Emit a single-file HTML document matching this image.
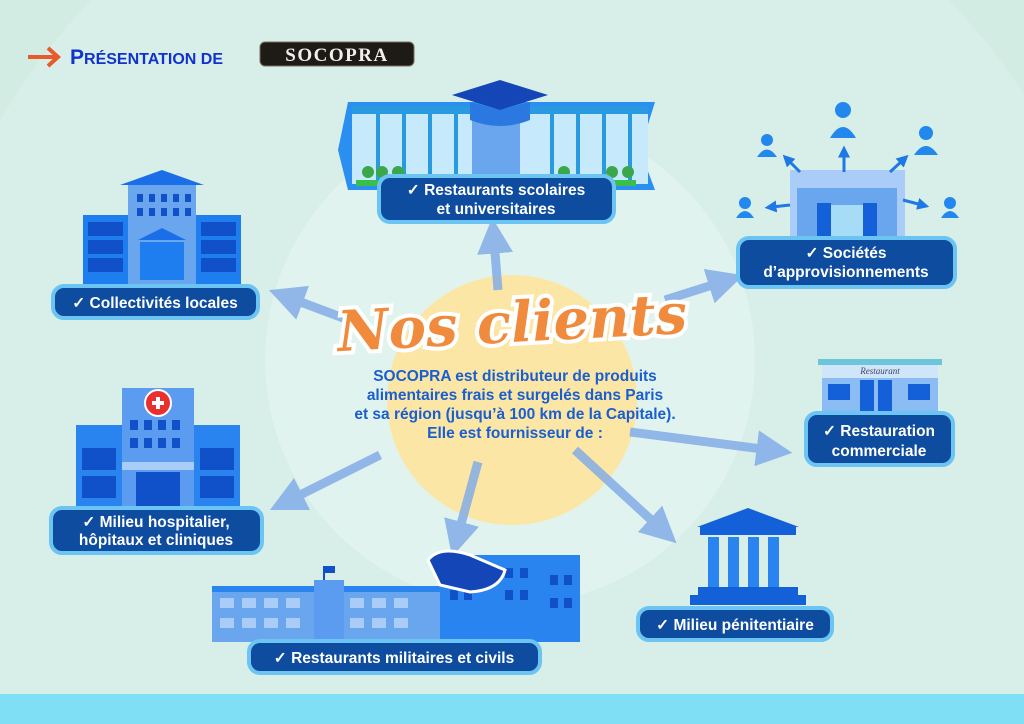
<!DOCTYPE html>
<html><head><meta charset="utf-8"><style>
html,body{margin:0;padding:0;width:1024px;height:724px;overflow:hidden;background:#d2ebe3;position:relative}
svg{display:block;position:absolute;left:0;top:0}
.lb{font-family:"Liberation Sans",sans-serif;font-weight:bold;font-size:15.5px;fill:#fff}
.ct{font-family:"Liberation Sans",sans-serif;font-weight:bold;font-size:15.5px;fill:#1a5fd0}
</style></head><body>
<svg width="1024" height="724" viewBox="0 0 1024 724" xmlns="http://www.w3.org/2000/svg">
<defs>
<marker id="ah" markerWidth="4" markerHeight="4" refX="1.5" refY="2" orient="auto"><path d="M0,0 L4,2 L0,4 Z" fill="#7ea9e8"/></marker>
<marker id="sa" markerWidth="4" markerHeight="4" refX="1.5" refY="2" orient="auto"><path d="M0,0 L4,2 L0,4 Z" fill="#1e78e6"/></marker>
</defs>
<rect width="1024" height="724" fill="#d2ebe3"/>
<circle cx="520" cy="420" r="600" fill="#d8eee8"/>
<circle cx="510" cy="360" r="245" fill="#e1f3ee"/>
<circle cx="512" cy="400" r="125" fill="#fbe6a6"/>
<rect x="0" y="694" width="1024" height="30" fill="#7fe0f5"/>

<!-- header -->
<path d="M28,57 H56" stroke="#e85a2a" stroke-width="4"/>
<path d="M48,48 L58,57 L48,66" stroke="#e85a2a" stroke-width="4" fill="none"/>
<text x="70" y="64" font-family="Liberation Sans,sans-serif" font-weight="bold" fill="#1133cc"><tspan font-size="21">P</tspan><tspan font-size="16">RÉSENTATION DE</tspan></text>
<rect x="260" y="42" width="154" height="24" rx="5" fill="#1e1a16" stroke="#7a6f60"/>
<text x="337" y="61" text-anchor="middle" font-family="Liberation Serif,serif" font-weight="bold" font-size="19" fill="#eee" letter-spacing="1.5">SOCOPRA</text>

<!-- arrows -->
<g stroke="#7ea9e8" stroke-width="9" fill="none" opacity="0.8" marker-end="url(#ah)">
<line x1="362" y1="325" x2="290" y2="298"/>
<line x1="498" y1="290" x2="494" y2="240"/>
<line x1="665" y1="300" x2="722" y2="282"/>
<line x1="630" y1="432" x2="770" y2="450"/>
<line x1="380" y1="455" x2="290" y2="500"/>
<line x1="478" y1="462" x2="458" y2="535"/>
<line x1="575" y1="450" x2="660" y2="528"/>
</g>

<!-- school -->
<path d="M348,102 H655 L640,150 L655,190 H348 L338,150 Z" fill="#2a8ff0"/>
<rect x="352" y="106" width="296" height="78" fill="#c6e9fb"/>
<g fill="#2a9ae0">
<rect x="352" y="106" width="296" height="8"/>
<rect x="376" y="106" width="4" height="78"/><rect x="402" y="106" width="4" height="78"/><rect x="428" y="106" width="4" height="78"/><rect x="454" y="106" width="4" height="78"/><rect x="550" y="106" width="4" height="78"/><rect x="576" y="106" width="4" height="78"/><rect x="602" y="106" width="4" height="78"/><rect x="628" y="106" width="4" height="78"/>
</g>
<rect x="472" y="110" width="48" height="66" fill="#6aa6ee"/>
<path d="M452,95 L500,80 L548,95 L500,110 Z" fill="#1446b8"/>
<path d="M470,102 V120 Q500,132 530,120 V102 L500,110 Z" fill="#2a78e0"/>
<rect x="356" y="180" width="280" height="6" fill="#3ac04a"/>
<g fill="#3aa84a"><circle cx="368" cy="172" r="6"/><circle cx="382" cy="172" r="6"/><circle cx="398" cy="172" r="6"/><circle cx="564" cy="172" r="6"/><circle cx="612" cy="172" r="6"/><circle cx="628" cy="172" r="6"/></g>

<!-- collectivites -->
<path d="M120,185 L162,170 L204,185 Z" fill="#1a6fe8"/>
<rect x="128" y="185" width="68" height="100" fill="#6aa6ee"/>
<rect x="83" y="215" width="45" height="70" fill="#1e7ef0"/>
<rect x="196" y="215" width="45" height="70" fill="#1e7ef0"/>
<g fill="#1050c8"><rect x="88" y="222" width="35" height="14"/><rect x="88" y="240" width="35" height="14"/><rect x="88" y="258" width="35" height="14"/><rect x="201" y="222" width="35" height="14"/><rect x="201" y="240" width="35" height="14"/><rect x="201" y="258" width="35" height="14"/>
<rect x="137" y="194" width="6" height="8"/><rect x="149" y="194" width="6" height="8"/><rect x="161" y="194" width="6" height="8"/><rect x="173" y="194" width="6" height="8"/><rect x="185" y="194" width="6" height="8"/>
<rect x="137" y="208" width="6" height="8"/><rect x="149" y="208" width="6" height="8"/><rect x="161" y="208" width="6" height="8"/><rect x="173" y="208" width="6" height="8"/><rect x="185" y="208" width="6" height="8"/></g>
<path d="M138,240 L162,228 L186,240 Z" fill="#1a6fe8"/>
<rect x="140" y="242" width="44" height="38" fill="#1e7ef0"/>

<!-- societes -->
<rect x="790" y="170" width="115" height="68" fill="#a9cdf8"/>
<rect x="797" y="188" width="100" height="50" fill="#6aa6ee"/>
<rect x="820" y="205" width="55" height="33" fill="#a6dcf6"/>
<rect x="817" y="203" width="14" height="35" fill="#1460d8"/><rect x="863" y="203" width="14" height="35" fill="#1460d8"/>
<g fill="#2288ee"><circle cx="767" cy="140" r="6"/><path d="M757,157 Q767,142 777,157 Z"/><circle cx="843" cy="110" r="8"/><path d="M830,138 Q843,116 856,138 Z"/><circle cx="926" cy="133" r="7"/><path d="M914,155 Q926,137 938,155 Z"/><circle cx="745" cy="203" r="6"/><path d="M736,218 Q745,204 754,218 Z"/><circle cx="950" cy="203" r="6"/><path d="M941,218 Q950,204 959,218 Z"/></g>
<g stroke="#1e78e6" stroke-width="3" marker-end="url(#sa)"><line x1="800" y1="172" x2="788" y2="160"/><line x1="844" y1="172" x2="844" y2="153"/><line x1="890" y1="172" x2="903" y2="160"/><line x1="790" y1="205" x2="772" y2="207"/><line x1="903" y1="200" x2="922" y2="205"/></g>

<!-- restaurant -->
<rect x="818" y="359" width="124" height="6" fill="#6ac6d8"/>
<rect x="822" y="365" width="116" height="48" fill="#cfe5fa"/>
<text x="880" y="374" text-anchor="middle" font-family="Liberation Serif,serif" font-style="italic" font-size="9" fill="#446">Restaurant</text>
<rect x="822" y="378" width="116" height="35" fill="#8bbcf4"/>
<g fill="#1460d8"><rect x="828" y="384" width="22" height="16"/><rect x="860" y="380" width="14" height="33"/><rect x="878" y="380" width="14" height="33"/><rect x="908" y="384" width="22" height="16"/></g>

<!-- hospital -->
<rect x="122" y="388" width="72" height="118" fill="#5b9cf0"/>
<rect x="76" y="425" width="46" height="81" fill="#2a84f0"/>
<rect x="194" y="425" width="46" height="81" fill="#2a84f0"/>
<g fill="#1050c8"><rect x="82" y="448" width="34" height="22"/><rect x="200" y="448" width="34" height="22"/><rect x="82" y="476" width="34" height="22"/><rect x="200" y="476" width="34" height="22"/>
<rect x="130" y="420" width="8" height="10"/><rect x="144" y="420" width="8" height="10"/><rect x="158" y="420" width="8" height="10"/><rect x="172" y="420" width="8" height="10"/>
<rect x="130" y="438" width="8" height="10"/><rect x="144" y="438" width="8" height="10"/><rect x="158" y="438" width="8" height="10"/><rect x="172" y="438" width="8" height="10"/>
<rect x="136" y="472" width="44" height="34"/></g>
<rect x="122" y="462" width="72" height="8" fill="#a9cdf8"/>
<circle cx="158" cy="403" r="13" fill="#e83030" stroke="#fff" stroke-width="2"/>
<path d="M152,403 H164 M158,397 V409" stroke="#fff" stroke-width="4"/>

<!-- military -->
<rect x="212" y="590" width="290" height="52" fill="#6aa6ee"/>
<rect x="212" y="586" width="290" height="6" fill="#2a84f0"/>
<g fill="#a9cdf8"><rect x="220" y="598" width="14" height="10"/><rect x="242" y="598" width="14" height="10"/><rect x="264" y="598" width="14" height="10"/><rect x="286" y="598" width="14" height="10"/><rect x="350" y="598" width="14" height="10"/><rect x="372" y="598" width="14" height="10"/><rect x="394" y="598" width="14" height="10"/>
<rect x="220" y="618" width="14" height="10"/><rect x="242" y="618" width="14" height="10"/><rect x="264" y="618" width="14" height="10"/><rect x="286" y="618" width="14" height="10"/><rect x="350" y="618" width="14" height="10"/><rect x="372" y="618" width="14" height="10"/><rect x="394" y="618" width="14" height="10"/></g>
<rect x="314" y="580" width="30" height="62" fill="#5b9cf0"/>
<path d="M324,580 V566" stroke="#1050c8" stroke-width="2"/><rect x="325" y="566" width="10" height="7" fill="#1050c8"/>
<rect x="440" y="555" width="140" height="87" fill="#2a84f0"/>
<g fill="#1050c8"><rect x="450" y="568" width="8" height="10"/><rect x="464" y="568" width="8" height="10"/><rect x="505" y="568" width="8" height="10"/><rect x="520" y="568" width="8" height="10"/><rect x="550" y="575" width="8" height="10"/><rect x="564" y="575" width="8" height="10"/><rect x="450" y="590" width="8" height="10"/><rect x="464" y="590" width="8" height="10"/><rect x="505" y="590" width="8" height="10"/><rect x="520" y="590" width="8" height="10"/><rect x="550" y="598" width="8" height="10"/><rect x="564" y="598" width="8" height="10"/></g>
<path d="M428,560 Q440,545 470,555 L505,570 Q500,590 470,592 L440,585 Z" fill="#1446b8" stroke="#fff" stroke-width="3"/>

<!-- justice -->
<path d="M697,527 L748,508 L799,527 Z" fill="#1460d8"/>
<rect x="700" y="527" width="96" height="8" fill="#1460d8"/>
<g fill="#2a84f0"><rect x="708" y="537" width="11" height="50"/><rect x="728" y="537" width="11" height="50"/><rect x="748" y="537" width="11" height="50"/><rect x="768" y="537" width="11" height="50"/></g>
<rect x="698" y="587" width="100" height="8" fill="#1460d8"/><rect x="690" y="595" width="116" height="10" fill="#1460d8"/>

<!-- Nos clients -->
<text x="512" y="342" text-anchor="middle" font-family="DejaVu Serif,Liberation Serif,serif" font-style="italic" font-weight="bold" font-size="56" fill="#f08a3c" stroke="#fff" stroke-width="8" paint-order="stroke" transform="rotate(-3 512 320)">Nos clients</text>
<text class="ct" text-anchor="middle"><tspan x="515" y="381">SOCOPRA est distributeur de produits</tspan><tspan x="515" y="400">alimentaires frais et surgelés dans Paris</tspan><tspan x="515" y="419">et sa région (jusqu’à 100 km de la Capitale).</tspan><tspan x="515" y="438">Elle est fournisseur de :</tspan></text>

<!-- labels -->
<g fill="#0d4c9e" stroke="#6cc4f2" stroke-width="4">
<rect x="379" y="176" width="235" height="46" rx="11"/>
<rect x="738" y="238" width="217" height="49" rx="11"/>
<rect x="53" y="286" width="205" height="32" rx="11"/>
<rect x="806" y="413" width="147" height="52" rx="11"/>
<rect x="51" y="508" width="211" height="45" rx="11"/>
<rect x="638" y="608" width="194" height="32" rx="11"/>
<rect x="249" y="641" width="291" height="32" rx="11"/>
</g>
<g class="lb" text-anchor="middle">
<text x="496" y="195">✓ Restaurants scolaires</text><text x="496" y="214">et universitaires</text>
<text x="846" y="258">✓ Sociétés</text><text x="846" y="277">d’approvisionnements</text>
<text x="155" y="308">✓ Collectivités locales</text>
<text x="879" y="436">✓ Restauration</text><text x="879" y="456">commerciale</text>
<text x="156" y="527">✓ Milieu hospitalier,</text><text x="156" y="545">hôpitaux et cliniques</text>
<text x="735" y="630">✓ Milieu pénitentiaire</text>
<text x="394" y="663">✓ Restaurants militaires et civils</text>
</g>
</svg>
</body></html>
